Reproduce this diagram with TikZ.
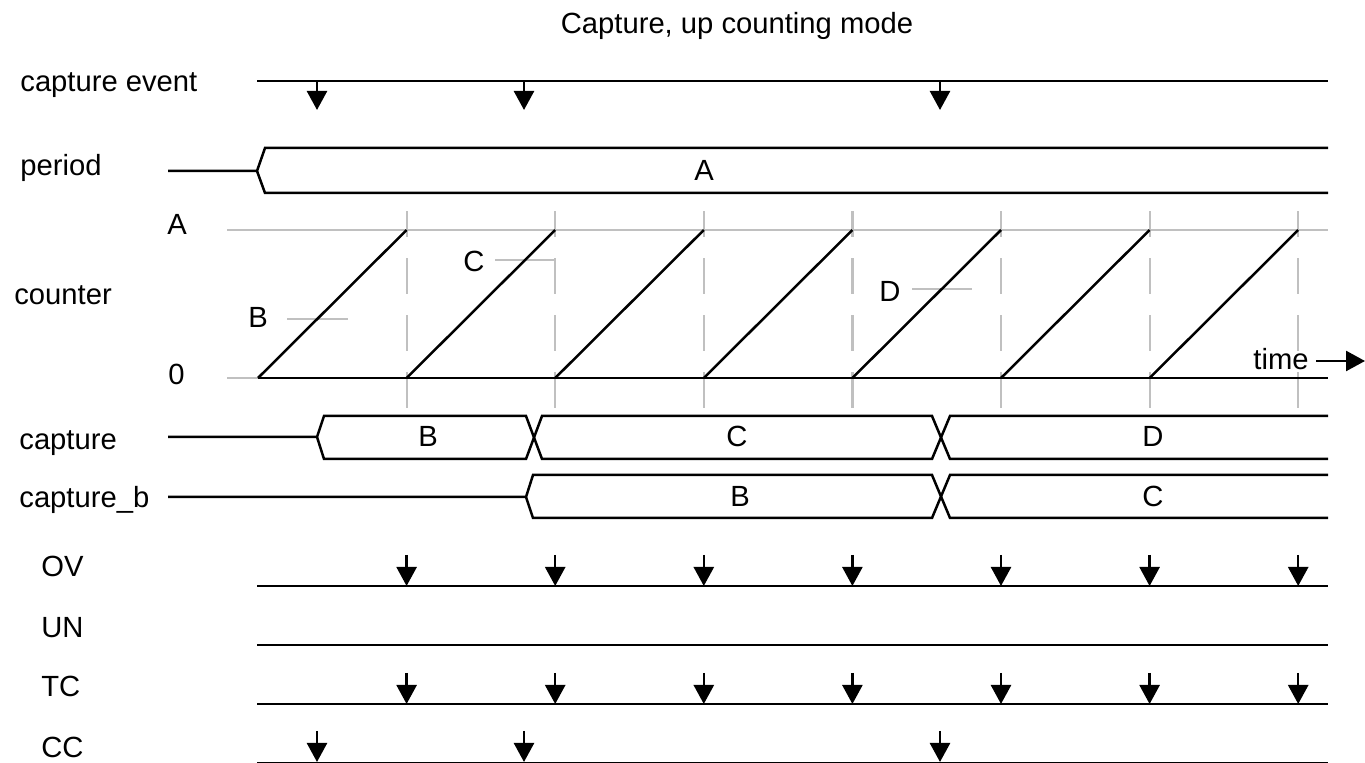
\documentclass[tikz,border=0pt]{standalone}
\usepackage{fontspec}
\setmainfont{Liberation Sans}
\usetikzlibrary{arrows.meta}
\definecolor{gridgray}{RGB}{192,192,192}
\tikzset{
  lbl/.style={anchor=base west, inner sep=0},
  val/.style={anchor=base, inner sep=0},
  sig/.style={black, line width=1.25pt},
  guide/.style={gridgray, line width=1.1pt},
  evt/.style={black, line width=1.25pt, -{Triangle[length=9.5pt,width=10pt]}},
}

\begin{document}
\begin{tikzpicture}[x=.5pt, y=-.5pt, font=\fontsize{14.6}{17}\selectfont]
\useasboundingbox (0,0) rectangle (1365,763);
\coordinate (O) at (258,378);
\node[val] (title) at (737,34) {Capture, up counting mode};

% signal names
\node[lbl] (nEvent) at (20,92) {capture event};
\node[lbl] (nPeriod) at (20,176) {period};
\node[lbl] (nCounter) at (14,305) {counter};
\node[lbl] (nCapture) at (19,450) {capture};
\node[lbl] (nCaptureB) at (19,508) {capture\_b};
\node[lbl] (nOV) at (41,577) {OV};
\node[lbl] (nUN) at (41,638) {UN};
\node[lbl] (nTC) at (41,697) {TC};
\node[lbl] (nCC) at (41,757) {CC};

% capture event
\draw[sig] (257,81) -- (1328,81);
\foreach \x in {317,524,940}
  \draw[evt] (\x,81) -- (\x,110);

% period
\draw[sig] (168,171) -- (257,171) -- (265,148) -- (1328,148);
\draw[sig] (257,171) -- (265,193) -- (1328,193);
\node[val] (pA) at (704,181) {A};

% counter
\draw[guide] (227,230) -- (1328,230);
\draw[guide] (227,378) -- (O);
\foreach \k in {1,...,7}
  \draw[guide, dash pattern=on 18pt off 10.5pt] ({258+148.6*\k},408) -- ({258+148.6*\k},211);
\draw[guide] (287,319) -- (348,319);
\draw[guide] (495,260) -- (555,260);
\draw[guide] (912,289) -- (972,289);
\draw[sig] (O) -- (1328,378);
\foreach \k in {1,...,7}
  \draw[sig] ({258+148.6*(\k-1)},378) -- ({258+148.6*\k},230);
\node[lbl] (cA) at (167,235) {A};
\node[lbl] (c0) at (168,385) {0};
\node[lbl] (cB) at (248,328) {B};
\node[lbl] (cC) at (463,272) {C};
\node[lbl] (cD) at (879,302) {D};
\node[lbl] (tm) at (1253,370) {time};
\coordinate (tmEnd) at (1365,361);
\draw[evt] (1316,361) -- (tmEnd);

% capture
\draw[sig] (168,437) -- (317,437) -- (324,416) -- (526,416) -- (542,459) -- (932,459) -- (950,416) -- (1328,416);
\draw[sig] (317,437) -- (324,459) -- (526,459) -- (542,416) -- (932,416) -- (950,459) -- (1328,459);
\node[val] (capB) at (428,447) {B};
\node[val] (capC) at (737,447) {C};
\node[val] (capD) at (1153,447) {D};

% capture_b
\draw[sig] (168,497) -- (526,497) -- (533,475) -- (932,475) -- (950,518) -- (1328,518);
\draw[sig] (526,497) -- (533,518) -- (932,518) -- (950,475) -- (1328,475);
\node[val] (cbB) at (740,507) {B};
\node[val] (cbC) at (1153,507) {C};

% flags
\draw[sig] (257,586) -- (1328,586);
\draw[sig] (257,645) -- (1328,645);
\draw[sig] (257,704) -- (1328,704);
\draw[sig] (257,763) -- (1328,763);
\foreach \k in {1,...,7} {
  \draw[evt] ({258+148.6*\k},555) -- ++(0,31);
  \draw[evt] ({258+148.6*\k},673) -- ++(0,31);
}
\foreach \x in {317,524,940}
  \draw[evt] (\x,731) -- (\x,762);
\end{tikzpicture}
\end{document}
